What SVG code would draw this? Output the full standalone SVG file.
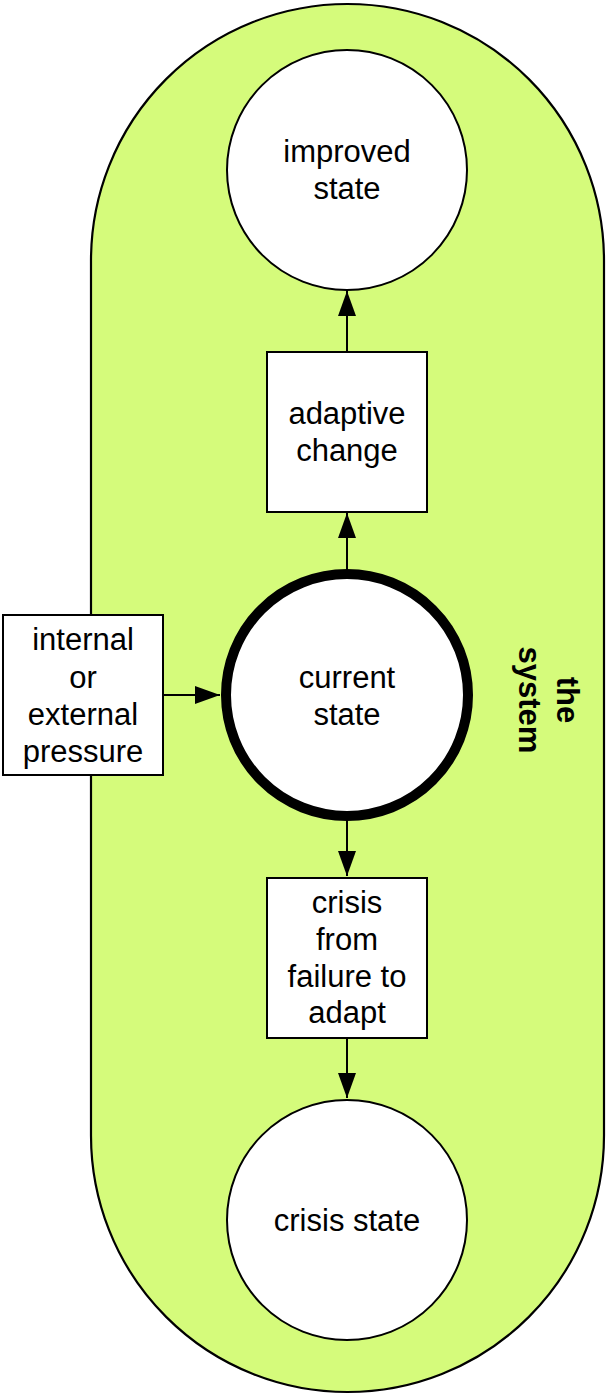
<svg xmlns="http://www.w3.org/2000/svg" width="607" height="1395" viewBox="0 0 607 1395">
<defs>
<style>
.lbl{font-family:"Liberation Sans",Arial,Helvetica,sans-serif;font-size:31px;fill:#000;text-anchor:middle}
.bold{font-weight:bold}
.node{fill:#fff;stroke:#000;stroke-width:2}
.con{stroke:#000;stroke-width:2;fill:none}
</style>
<marker id="ah" viewBox="0 0 25 18" refX="25" refY="9" markerWidth="25" markerHeight="18" markerUnits="userSpaceOnUse" orient="auto">
<path d="M0,0 L25,9 L0,18 Z" fill="#000"/>
</marker>
</defs>
<g id="system">
<rect x="91" y="4" width="513" height="1388" rx="256.5" ry="256.5" fill="#d5fb7b" stroke="#000" stroke-width="2.2"/>
<text class="lbl bold" transform="translate(545,700) rotate(90)"><tspan x="0" y="-12">the</tspan><tspan x="0" y="26">system</tspan></text>
</g>
<g id="connectors">
<line class="con" x1="347" y1="352" x2="347" y2="291" marker-end="url(#ah)"/>
<line class="con" x1="347" y1="570" x2="347" y2="513" marker-end="url(#ah)"/>
<line class="con" x1="164" y1="695" x2="220" y2="695" marker-end="url(#ah)"/>
<line class="con" x1="347" y1="820" x2="347" y2="876" marker-end="url(#ah)"/>
<line class="con" x1="347" y1="1038" x2="347" y2="1098" marker-end="url(#ah)"/>
</g>
<g id="improved">
<circle class="node" cx="347" cy="170" r="120"/>
<text class="lbl" x="347" y="162">improved</text>
<text class="lbl" x="347" y="199">state</text>
</g>
<g id="adaptive">
<rect class="node" x="267" y="352" width="160" height="160"/>
<text class="lbl" x="347" y="424">adaptive</text>
<text class="lbl" x="347" y="461">change</text>
</g>
<g id="current">
<circle cx="347" cy="695" r="121" fill="#fff" stroke="#000" stroke-width="10"/>
<text class="lbl" x="347" y="688">current</text>
<text class="lbl" x="347" y="725">state</text>
</g>
<g id="pressure">
<rect class="node" x="3" y="615" width="160" height="160"/>
<text class="lbl" x="83" y="650">internal</text>
<text class="lbl" x="83" y="688">or</text>
<text class="lbl" x="83" y="725">external</text>
<text class="lbl" x="83" y="762">pressure</text>
</g>
<g id="crisisbox">
<rect class="node" x="267" y="878" width="160" height="160"/>
<text class="lbl" x="347" y="913">crisis</text>
<text class="lbl" x="347" y="950">from</text>
<text class="lbl" x="347" y="987">failure to</text>
<text class="lbl" x="347" y="1023">adapt</text>
</g>
<g id="crisisstate">
<circle class="node" cx="347" cy="1220" r="120"/>
<text class="lbl" x="347" y="1231">crisis state</text>
</g>
</svg>
